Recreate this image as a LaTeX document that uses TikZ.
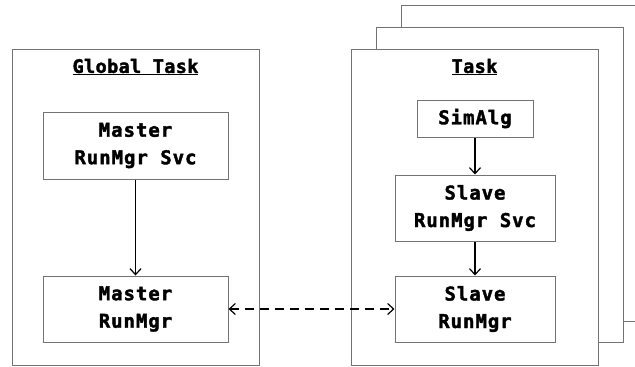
\documentclass[tikz,border=0pt]{standalone}
\usepackage{fontspec}
\setmonofont[BoldFeatures={FakeBold=2}]{DejaVu Sans Mono}
\usetikzlibrary{arrows.meta}
\begin{document}
\begin{tikzpicture}[x=1pt,y=-1pt,
  frame/.style={draw=black!55,fill=white,line width=1pt},
  comp/.style={draw=black!55,fill=white,line width=1pt,align=center,font=\ttfamily\bfseries\addfontfeatures{LetterSpace=5}\fontsize{19}{27.5}\selectfont,inner sep=0pt},
  title/.style={font=\ttfamily\bfseries\addfontfeatures{LetterSpace=2}\fontsize{18.5}{22}\selectfont,inner sep=0pt},
  conn/.style={-{Straight Barb[length=6pt,width=11pt]},line width=1.2pt}]
\useasboundingbox (0,0) rectangle (635,367);
\clip (0,0) rectangle (635,367);
% stacked task frames
\path[frame] (401,5) rectangle (660,321);
\path[frame] (376,27) rectangle (623,342);
\node[frame,minimum width=247pt,minimum height=316pt,inner sep=0pt] (task) at (474.5,207) {};
\node[frame,minimum width=247pt,minimum height=316pt,inner sep=0pt] (global) at (135.5,207) {};
\node[title] (gt) at (135.5,67) {\underline{Global Task}};
\node[title] (tt) at (474.5,67) {\underline{Task}};
% components
\node[comp,minimum width=185pt,minimum height=67pt] (msvc) at (135.5,145.5) {Master\\RunMgr Svc};
\node[comp,minimum width=185pt,minimum height=66pt] (mrm) at (135.5,309) {Master\\RunMgr};
\node[comp,minimum width=116pt,minimum height=37pt] (sim) at (475,118.5) {SimAlg};
\node[comp,minimum width=160pt,minimum height=66pt] (ssvc) at (475,208) {Slave\\RunMgr Svc};
\node[comp,minimum width=160pt,minimum height=66pt] (srm) at (475,309) {Slave\\RunMgr};
% connectors
\draw[conn] (msvc) -- (mrm);
\draw[conn] (sim) -- (ssvc);
\draw[conn] (ssvc) -- (srm);
\draw[conn,{Straight Barb[length=6pt,width=11pt]}-{Straight Barb[length=6pt,width=11pt]},dash pattern=on 9pt off 6pt] (mrm.east) -- (srm.west);
\end{tikzpicture}
\end{document}
